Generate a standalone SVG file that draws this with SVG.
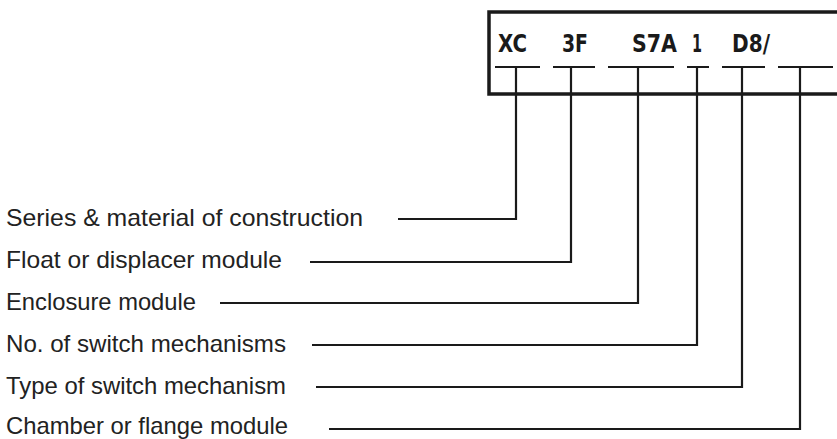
<svg xmlns="http://www.w3.org/2000/svg" width="837" height="439" viewBox="0 0 837 439">
<style>
.code{font-family:"DejaVu Sans Condensed","DejaVu Sans",sans-serif;font-weight:bold;font-size:24px;fill:#1a1a1a}
.lbl{font-family:"Liberation Sans",Arial,sans-serif;font-size:24px;fill:#222}
.ln{stroke:#1a1a1a;stroke-width:2.2;fill:none}
</style>
<rect width="837" height="439" fill="#fff"/>
<g id="code-box">
<rect x="489" y="12" width="360" height="82" fill="none" stroke="#1a1a1a" stroke-width="3.5"/>
<text class="code" x="498" y="52" textLength="29" lengthAdjust="spacingAndGlyphs">XC</text>
<text class="code" x="562" y="52" textLength="26" lengthAdjust="spacingAndGlyphs">3F</text>
<text class="code" x="632" y="52" textLength="45" lengthAdjust="spacingAndGlyphs">S7A</text>
<text class="code" x="692" y="52" textLength="10" lengthAdjust="spacingAndGlyphs">1</text>
<text class="code" x="732" y="52" textLength="38" lengthAdjust="spacingAndGlyphs">D8/</text>
<path class="ln" d="M495 67H540M553 67H595M608 67H674M687 67H709M722 67H765M778 67H833"/>
</g>
<g id="label-series"><text class="lbl" x="6" y="226" textLength="357" lengthAdjust="spacingAndGlyphs">Series &amp; material of construction</text></g>
<g id="label-float"><text class="lbl" x="6" y="268" textLength="276" lengthAdjust="spacingAndGlyphs">Float or displacer module</text></g>
<g id="label-enclosure"><text class="lbl" x="6" y="310" textLength="190" lengthAdjust="spacingAndGlyphs">Enclosure module</text></g>
<g id="label-no"><text class="lbl" x="6" y="352" textLength="280" lengthAdjust="spacingAndGlyphs">No. of switch mechanisms</text></g>
<g id="label-type"><text class="lbl" x="6" y="394" textLength="280" lengthAdjust="spacingAndGlyphs">Type of switch mechanism</text></g>
<g id="label-chamber"><text class="lbl" x="6" y="434" textLength="282" lengthAdjust="spacingAndGlyphs">Chamber or flange module</text></g>
<g id="connectors">
<path class="ln" d="M398 219H516V67"/>
<path class="ln" d="M310 262H571V67"/>
<path class="ln" d="M220 303H638V67"/>
<path class="ln" d="M312 345H697V67"/>
<path class="ln" d="M316 387H742V67"/>
<path class="ln" d="M329 429H800V67"/>
</g>
</svg>
